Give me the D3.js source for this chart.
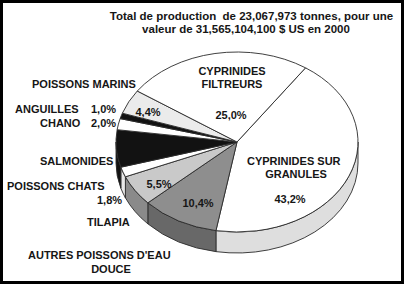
<!DOCTYPE html>
<html><head><meta charset="utf-8">
<script src="https://cdn.jsdelivr.net/npm/d3@7"></script>
<style>
html,body{margin:0;padding:0;background:#fff;}
svg{display:block;}
text{font-family:"Liberation Sans",Arial,sans-serif;font-weight:bold;fill:#161616;white-space:pre;}
</style></head>
<body><svg id="c" width="404" height="284"></svg>
<script>
// ---- data ----
const categories = ["Cyprinides sur granulés","Autres poissons d'eau douce","Tilapia","Poissons chats","Salmonidés","Chano","Anguilles","Poissons marins","Cyprinides filtreurs"];
const values = [43.2, 10.4, 5.5, 1.8, 6.7, 2.0, 1.0, 4.4, 25.0];
const titleLines = ["Total de production  de 23,067,973 tonnes, pour une","valeur de 31,565,104,100 $ US en 2000"];

// ---- styles / layout ----
const topColors  = ["#ffffff","#8e8e8e","#c9c9c9","#ffffff","#121212","#ffffff","#121212","#ebebeb","#ffffff"];
const sideColors = ["#dedede","#686868","#8a8a8a","#e8e8e8","#121212","#f0f0f0","#121212","#d8d8d8","#f2f2f2"];
const fmt = v => d3.format(".1f")(v).replace(".", ",");

const svg = d3.select("#c");
const W = 404, H = 284;
svg.append("rect").attr("x",1.5).attr("y",1.5).attr("width",W-3).attr("height",H-3)
  .attr("fill","#fff").attr("stroke","#000").attr("stroke-width",3);

const cx = 237, cy = 142, rx = 121, ry = 90, depth = 21;
const startDeg = 34.5;
const pie = d3.pie().sort(null).value(d => d)
  .startAngle(startDeg*Math.PI/180).endAngle(startDeg*Math.PI/180 + 2*Math.PI);
const arcs = pie(values);

const P = (a, dy=0) => [cx + rx*Math.sin(a), cy - ry*Math.cos(a) + dy];
const g = svg.append("g");

// sides (front half: angles between PI/2 and 3PI/2)
arcs.forEach((d,i) => {
  const a0 = Math.max(d.startAngle, Math.PI/2), a1 = Math.min(d.endAngle, 3*Math.PI/2);
  if (a1 <= a0) return;
  const p0 = P(a0), p1 = P(a1), q1 = P(a1, depth), q0 = P(a0, depth);
  const large = (a1 - a0) > Math.PI ? 1 : 0;
  const path = `M${p0}A${rx},${ry} 0 ${large} 1 ${p1}L${q1}A${rx},${ry} 0 ${large} 0 ${q0}Z`;
  g.append("path").attr("d", path).attr("fill", sideColors[i])
    .attr("stroke","#2a2a2a").attr("stroke-width",0.9).attr("stroke-linejoin","round");
});

// tops
arcs.forEach((d,i) => {
  const p0 = P(d.startAngle), p1 = P(d.endAngle);
  const large = (d.endAngle - d.startAngle) > Math.PI ? 1 : 0;
  const path = `M${cx},${cy}L${p0}A${rx},${ry} 0 ${large} 1 ${p1}Z`;
  g.append("path").attr("d", path).attr("fill", topColors[i])
    .attr("stroke","#2a2a2a").attr("stroke-width",0.9).attr("stroke-linejoin","round");
});

// ---- text ----
const fs = 11;
const T = (str, x, yc, anchor="start", size=fs) =>
  svg.append("text").attr("x",x).attr("y",yc + size*0.36).attr("text-anchor",anchor)
    .attr("font-size",size).attr("xml:space","preserve").text(str);

T(titleLines[0], 251.5, 16, "middle", 11.5);
T(titleLines[1], 246, 29, "middle", 11.5);

const pct = i => fmt(values[i]) + "%";
// labels: [text, x, yCenter, anchor]
const labels = [
  ["CYPRINIDES", 232, 71, "middle"],
  ["FILTREURS", 232, 84, "middle"],
  [pct(8), 231, 115, "middle"],
  ["POISSONS MARINS", 32, 84, "start"],
  ["ANGUILLES", 15, 109, "start"],
  [pct(6), 91, 109, "start"],
  ["CHANO", 40, 123, "start"],
  [pct(5), 91, 123, "start"],
  [pct(7), 148, 112, "middle"],
  ["SALMONIDES", 40, 161, "start"],
  ["POISSONS CHATS", 7, 186, "start"],
  [pct(3), 97, 200, "start"],
  [pct(2), 159, 184, "middle"],
  [pct(1), 198, 203, "middle"],
  ["TILAPIA", 87, 222, "start"],
  ["AUTRES POISSONS D'EAU", 28, 255, "start"],
  ["DOUCE", 111, 269, "middle"],
  ["CYPRINIDES SUR", 247, 161, "start"],
  ["GRANULES", 296, 174, "middle"],
  [pct(0), 290, 199, "middle"]
];
labels.forEach(l => T(l[0], l[1], l[2], l[3]));
</script></body></html>
